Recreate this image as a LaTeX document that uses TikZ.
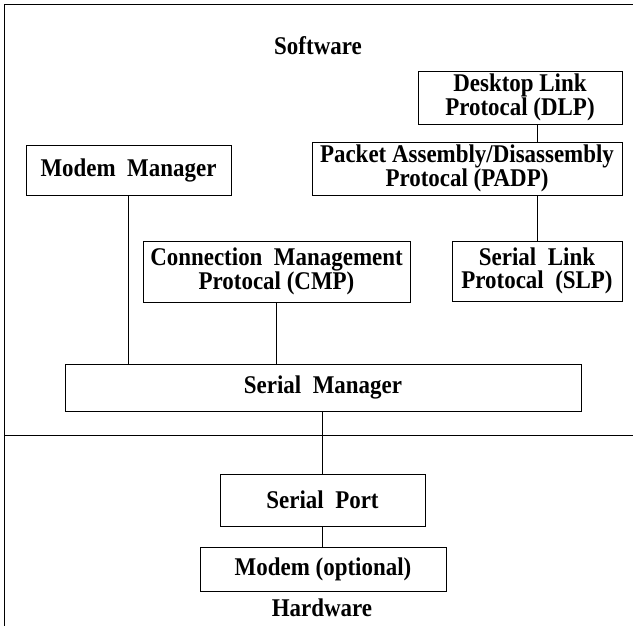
\documentclass[tikz,border=0pt]{standalone}
\usepackage{fontspec}
\setmainfont{Liberation Serif}[FakeStretch=0.9]
\begin{document}
\begin{tikzpicture}[x=1pt, y=-1pt, line width=0.9pt,
            box/.style={draw, rectangle, inner sep=0pt, align=center,
                font=\fontsize{25.5}{23.5}\selectfont\bfseries},
            heading/.style={font=\fontsize{25.5}{23.5}\selectfont\bfseries}]
            \useasboundingbox (0,0) rectangle (633,626);

            % outer frame and the software/hardware divider
            \draw (633,4.5) -- (4.5,4.5) -- (4.5,626);
            \draw (4.5,435) -- (633,435);

            \node[heading] (software) at (318,46) {Software};
            \node[heading] (hardware) at (322,608) {Hardware};

            % software side
            \node[box, minimum width=204pt, minimum height=53pt] (dlp) at (520,97.5) {Desktop Link\\Protocal (DLP)};
            \node[box, minimum width=310pt, minimum height=53pt] (padp) at (467,168.5) {Packet Assembly/Disassembly\\Protocal (PADP)};
            \node[box, minimum width=205pt, minimum height=50pt] (modemmgr) at (128.5,170) {Modem\ \ Manager};
            \node[box, minimum width=267pt, minimum height=61pt] (cmp) at (276.5,271.5) {Connection\ \ Management\\Protocal (CMP)};
            \node[box, minimum width=170pt, minimum height=60pt] (slp) at (537,271) {Serial\ \ Link\\Protocal\ \ (SLP)};
            \node[box, minimum width=516pt, minimum height=47pt] (sermgr) at (323,387.5) {Serial\ \ Manager};

            % hardware side
            \node[box, minimum width=205pt, minimum height=52pt] (serport) at (322.5,500) {Serial\ \ Port};
            \node[box, minimum width=246pt, minimum height=44pt] (modem) at (323,569) {Modem (optional)};

            \draw (slp.north |- dlp.south) -- (slp.north |- padp.north);
            \draw (slp.north |- padp.south) -- (slp.north);
            \draw (modemmgr.south) -- (modemmgr.south |- sermgr.north);
            \draw (cmp.south) -- (cmp.south |- sermgr.north);
            \draw (serport.north |- sermgr.south) -- (serport.north);
            \draw (serport.south) -- (serport.south |- modem.north);
\end{tikzpicture}
\end{document}
